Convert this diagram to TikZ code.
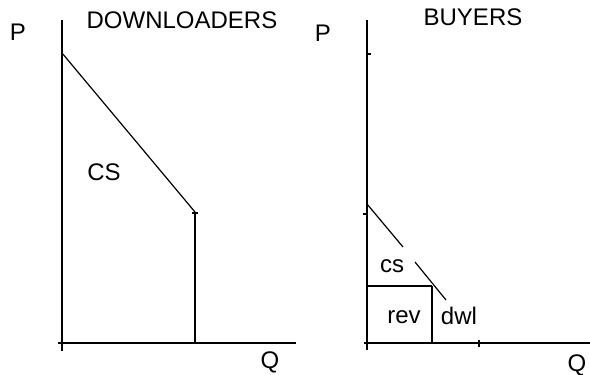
\documentclass[tikz,border=0pt]{standalone}
\usepackage{fontspec}
\setmainfont{Liberation Sans}
\begin{document}
\begin{tikzpicture}[x=1pt,y=-1pt,font=\fontsize{24}{28}\selectfont,
		axis/.style={line width=2pt},
		curve/.style={line width=1.2pt},
		lbl/.style={inner sep=0pt}]
		\useasboundingbox (0,0) rectangle (590,375);
		%%%%% DOWNLOADERS %%%%%
		\draw[axis] (62, 20) -- (62, 351);
		\draw[axis] (58, 343) -- (296, 343);
		
		\draw[curve] (62, 53) -- (195, 212);
		\draw[axis] (195, 212) -- (195, 343);
		\draw[line width=1.2pt] (192, 213) -- (198, 213);
		
		\node[lbl] (pleft) at (18, 32) {P};
		\node[lbl] (qleft) at (270, 362) {Q};
		\node[lbl] (dtitle) at (182, 20) {DOWNLOADERS};
		\node[lbl] (csleft) at (104, 172) {CS};
		
		%%%%% BUYERS %%%%%
		\draw[axis] (367, 20) -- (367, 350);
		\draw[axis] (364, 343) -- (590, 343);
		\draw[line width=1.2pt] (367, 54) -- (371, 54);
		\draw[line width=1.2pt] (363, 214) -- (367, 214);
		\draw[line width=1.2pt] (479, 340) -- (479, 347);
		
		\draw[curve] (367, 204) -- (403, 247);
		\draw[curve] (415, 262) -- (446, 300);
		
		\draw[line width=1.6pt] (367, 286) -- (432, 286);
		\draw[axis] (432, 286) -- (432, 343);
		
		\node[lbl] (pright) at (323, 33) {P};
		\node[lbl] (qright) at (577, 365) {Q};
		\node[lbl] (btitle) at (473, 17) {BUYERS};
		\node[lbl] (csright) at (392, 266) {cs};
		\node[lbl] (rev) at (404, 317) {rev};
		\node[lbl] (dwl) at (459, 316) {dwl};
		%%%%% END %%%%%
	\end{tikzpicture}
\end{document}
